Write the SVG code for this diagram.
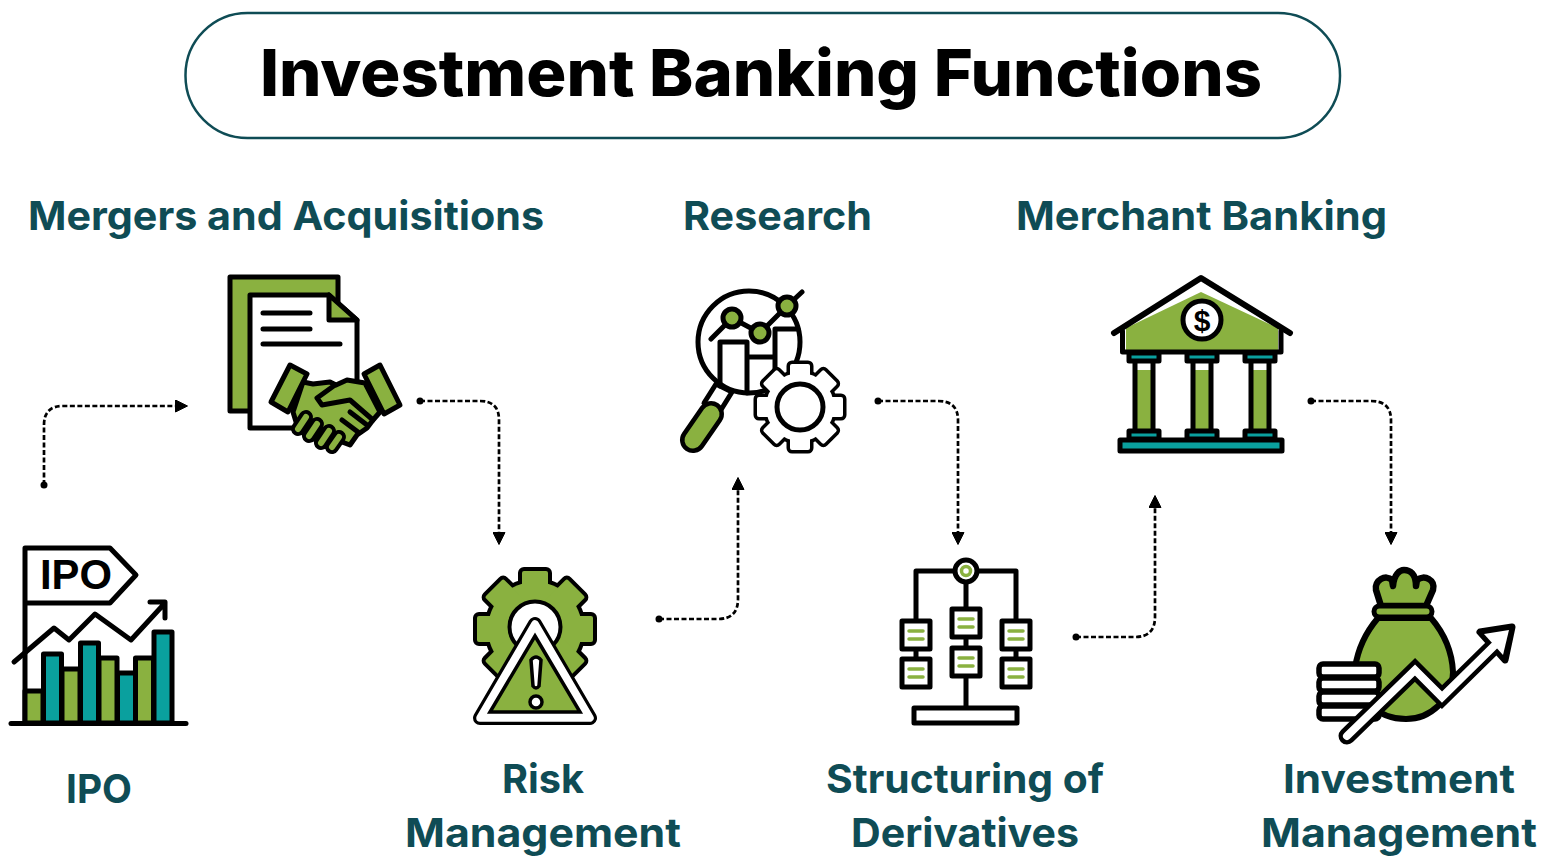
<svg xmlns="http://www.w3.org/2000/svg" xmlns:xlink="http://www.w3.org/1999/xlink" width="1554" height="866" viewBox="0 0 1554 866">
<style>
.lab{font-family:"Inter","Liberation Sans",sans-serif;font-weight:700;font-size:40px;fill:#0f4c55}
.k{stroke:#000;stroke-width:5;stroke-linejoin:round;stroke-linecap:round}
.g{fill:#8ab140}.t{fill:#0aa09e}.w{fill:#fff}.n{fill:none}
.c{fill:none;stroke:#000;stroke-width:2.700;stroke-dasharray:5 2.500}
.ln{stroke:#8ab140;stroke-width:3.500;stroke-linecap:round;fill:none}
</style>
<defs>
<marker id="ah" viewBox="0 0 13 13" refX="1" refY="6.500" markerWidth="13" markerHeight="13" markerUnits="userSpaceOnUse" orient="auto"><path d="M0.500 0.500L12.500 6.500L0.500 12.500Z" fill="#000" stroke="#000" stroke-width="1"/></marker>
<g id="gearA"><circle r="47"/><rect x="-13" y="-58" width="26" height="116" rx="2"/><rect x="-13" y="-58" width="26" height="116" rx="2" transform="rotate(45)"/><rect x="-13" y="-58" width="26" height="116" rx="2" transform="rotate(90)"/><rect x="-13" y="-58" width="26" height="116" rx="2" transform="rotate(135)"/></g>
<g id="gearB"><circle r="34"/><rect x="-10" y="-43" width="20" height="86" rx="2"/><rect x="-10" y="-43" width="20" height="86" rx="2" transform="rotate(45)"/><rect x="-10" y="-43" width="20" height="86" rx="2" transform="rotate(90)"/><rect x="-10" y="-43" width="20" height="86" rx="2" transform="rotate(135)"/></g>
<g id="box"><rect width="28" height="28" class="k w"/><path class="ln" d="M7 10H21M7 18H21"/></g>
<g id="cap"><rect x="-15" y="0" width="30" height="8" class="t" stroke="#000" stroke-width="5" stroke-linejoin="round"/></g>
<g id="col"><rect x="-9" y="361" width="18" height="69" class="g"/><rect x="-9" y="361" width="18" height="9" class="w"/><path d="M-9 361V430M9 361V430" class="k n"/></g>
</defs>

<g id="title">
<rect x="185.500" y="13" width="1154.500" height="125" rx="62" fill="#fff" stroke="#0f4c55" stroke-width="2.500"/>
<text x="260" y="96" textLength="1002" lengthAdjust="spacingAndGlyphs" font-family="Inter,'Liberation Sans',sans-serif" font-weight="800" font-size="65" fill="#000">Investment Banking Functions</text>
</g>

<g id="connectors">
<path class="c" marker-end="url(#ah)" d="M44 485V425Q44 406 63 406H176"/>
<path class="c" marker-end="url(#ah)" d="M420 401H480Q499 401 499 420V533"/>
<path class="c" marker-end="url(#ah)" d="M659 619H718Q738 619 738 599V489"/>
<path class="c" marker-end="url(#ah)" d="M878 401H938Q958 401 958 420V533"/>
<path class="c" marker-end="url(#ah)" d="M1076 637H1135Q1155 637 1155 617V507"/>
<path class="c" marker-end="url(#ah)" d="M1311 401H1371Q1391 401 1391 420V533"/>
<circle cx="44" cy="485" r="3.500"/><circle cx="420" cy="401" r="3.500"/><circle cx="659" cy="619" r="3.500"/><circle cx="878" cy="401" r="3.500"/><circle cx="1076" cy="637" r="3.500"/><circle cx="1311" cy="401" r="3.500"/>
</g>

<g id="node-ipo">
<path class="k n" d="M25 723V548H110L136 575L110 603H25"/>
<text x="40" y="589" textLength="72" lengthAdjust="spacingAndGlyphs" font-family="'Liberation Sans',sans-serif" font-weight="700" font-size="43" fill="#000">IPO</text>
<path class="k n" d="M14 662L54 628L69 640L95 614L131 640L165 603M150 602H165V618"/>
<rect x="25" y="691" width="18" height="32" class="k g"/>
<rect x="43.500" y="654" width="18" height="69" class="k t"/>
<rect x="62" y="669" width="18" height="54" class="k g"/>
<rect x="80.500" y="643" width="18" height="80" class="k t"/>
<rect x="99" y="658" width="18" height="65" class="k g"/>
<rect x="117.500" y="673" width="18" height="50" class="k t"/>
<rect x="135.500" y="658" width="18" height="65" class="k g"/>
<rect x="154" y="632" width="18" height="91" class="k t"/>
<path class="k n" d="M11 723.500H186"/>
<text class="lab" x="66" y="803" textLength="66" lengthAdjust="spacingAndGlyphs">IPO</text>
</g>

<g id="node-mergers">
<rect x="230" y="277" width="108" height="134" class="k g"/>
<path class="k w" d="M250 295H329L357 320V428H250Z"/>
<path class="k g" d="M329 295V320H357Z"/>
<path class="k n" d="M263 313H310M263 329H310M263 344H340"/>
<path class="k g" stroke-width="5.500" d="M303 382L313 384L330 382L336 385L347 380L365 383L380 412L373 420L367 428L357 435L350 445L342 442L327 447L320 442L310 437L297 425L293 412Z"/>
<path class="k n" d="M335 385L317 398L322 405L350 400L373 420M342 420L358 432M350 412L367 425"/>
<path stroke="#000" stroke-width="14" stroke-linecap="round" d="M306 417L298 429M317 424L309 436M329 431L321 443M339 437L332 447"/>
<path stroke="#8ab140" stroke-width="6" stroke-linecap="round" d="M306 417L298 429M317 424L309 436M329 431L321 443M339 437L332 447"/>
<path class="k g" d="M290 365L307 374L288 412L271 402Z"/>
<path class="k g" d="M380 365L364 374L384 414L400 405Z"/>
<text class="lab" x="28" y="230" textLength="516" lengthAdjust="spacingAndGlyphs">Mergers and Acquisitions</text>
</g>

<g id="node-risk">
<use href="#gearA" x="535" y="629" fill="#000" stroke="#000" stroke-width="8" stroke-linejoin="round"/>
<use href="#gearA" x="535" y="629" fill="#8ab140"/>
<circle cx="535" cy="627" r="25.500" fill="#fff" stroke="#000" stroke-width="4"/>
<path d="M535 624L590 718H480Z" fill="#fff" stroke="#000" stroke-width="14" stroke-linejoin="round"/>
<path d="M535 624L590 718H480Z" fill="#fff" stroke="#fff" stroke-width="7.500" stroke-linejoin="round"/>
<path d="M535 636L580 712H490Z" class="g" stroke="#000" stroke-width="3.500" stroke-linejoin="miter"/>
<path d="M531 660Q536 654 541 660L539 686Q536 690 533 686Z" fill="#fff" stroke="#000" stroke-width="3.500"/>
<circle cx="536" cy="702" r="6" fill="#fff" stroke="#000" stroke-width="3.500"/>
<text class="lab" x="502" y="793" textLength="82" lengthAdjust="spacingAndGlyphs">Risk</text>
<text class="lab" x="405" y="847" textLength="276" lengthAdjust="spacingAndGlyphs">Management</text>
</g>

<g id="node-research">
<path class="k w" d="M716 384L704 403L719 413L732 392Z"/>
<path d="M693 440L711 414" stroke="#000" stroke-width="26" stroke-linecap="round"/>
<path d="M693 440L711 414" stroke="#8ab140" stroke-width="17" stroke-linecap="round"/>
<circle cx="749" cy="342" r="51" class="k w"/>
<path class="k n" d="M720 386V342H747V393M747 357H775M775 357V329H798M775 329V372"/>
<path class="k n" d="M711 339L732 318L760 333L787 306L802 292"/>
<circle cx="732" cy="318" r="9" class="k g"/><circle cx="760" cy="333" r="9" class="k g"/><circle cx="787" cy="306" r="9" class="k g"/>
<use href="#gearB" x="800" y="407" fill="#000" stroke="#000" stroke-width="7" stroke-linejoin="round"/>
<use href="#gearB" x="800" y="407" fill="#fff"/>
<circle cx="800" cy="407" r="23" class="k w"/>
<text class="lab" x="683" y="230" textLength="189" lengthAdjust="spacingAndGlyphs">Research</text>
</g>

<g id="node-structuring">
<path class="k n" d="M916 621V571H1016V621M916 649V659M1016 649V659M966 571V609M966 638V648M966 677V707"/>
<use href="#box" x="902" y="621"/><use href="#box" x="902" y="659"/>
<use href="#box" x="952" y="609"/><use href="#box" x="952" y="648"/>
<use href="#box" x="1002" y="621"/><use href="#box" x="1002" y="659"/>
<rect x="914" y="708" width="103" height="15" class="k w"/>
<circle cx="966" cy="571" r="11" class="w" stroke="#000" stroke-width="5"/>
<circle cx="966" cy="571" r="4.500" fill="#fff" stroke="#8ab140" stroke-width="3.500"/>
<text class="lab" x="826" y="793" textLength="278" lengthAdjust="spacingAndGlyphs">Structuring of</text>
<text class="lab" x="851" y="847" textLength="228" lengthAdjust="spacingAndGlyphs">Derivatives</text>
</g>

<g id="node-merchant">
<path d="M1126 328L1201 292L1278 328V350H1126Z" class="g"/>
<path class="k n" d="M1122.500 331V352H1281V331"/>
<path d="M1114 333L1201 278L1290 333" fill="none" stroke="#000" stroke-width="6" stroke-linecap="round" stroke-linejoin="round"/>
<circle cx="1202" cy="320" r="19" class="k w"/>
<text x="1202" y="331" text-anchor="middle" font-family="'Liberation Sans',sans-serif" font-weight="700" font-size="30" fill="#000">$</text>
<use href="#col" x="1144"/><use href="#col" x="1202"/><use href="#col" x="1260"/>
<use href="#cap" x="1144" y="353"/><use href="#cap" x="1202" y="353"/><use href="#cap" x="1260" y="353"/>
<use href="#cap" x="1144" y="431"/><use href="#cap" x="1202" y="431"/><use href="#cap" x="1260" y="431"/>
<rect x="1120" y="440" width="162" height="11" class="t" stroke="#000" stroke-width="5" stroke-linejoin="round"/>
<text class="lab" x="1016" y="230" textLength="371" lengthAdjust="spacingAndGlyphs">Merchant Banking</text>
</g>

<g id="node-investment">
<path d="M1378 618C1366 632 1358 648 1355 668C1353 700 1380 719 1406 719C1430 719 1452 700 1453 672C1452 650 1443 632 1431 618Z" class="g" stroke="#000" stroke-width="6"/>
<path class="g" stroke="#000" stroke-width="6.500" stroke-linejoin="round" d="M1381 606L1376 590C1374 580 1386 574 1392 580L1393 586C1394 574 1400 570 1404 570C1410 570 1416 574 1416 586L1417 580C1424 574 1436 580 1433 590L1426 606Z"/>
<rect x="1374" y="606" width="58" height="11" rx="5.500" class="g" stroke="#000" stroke-width="5"/>
<rect x="1319" y="664" width="60" height="13" rx="4" fill="#fff" stroke="#000" stroke-width="5.500"/>
<rect x="1319" y="678" width="60" height="13" rx="4" fill="#fff" stroke="#000" stroke-width="5.500"/>
<rect x="1319" y="692" width="60" height="13" rx="4" fill="#fff" stroke="#000" stroke-width="5.500"/>
<rect x="1319" y="706" width="60" height="13" rx="4" fill="#fff" stroke="#000" stroke-width="5.500"/>
<path d="M1347 736L1415 670L1442 697L1492 648" fill="none" stroke="#000" stroke-width="17" stroke-linecap="round" stroke-linejoin="miter"/>
<path d="M1480 632L1512 627L1505 660Z" fill="#000" stroke="#000" stroke-width="7" stroke-linejoin="round"/>
<path d="M1484 634L1509 630L1503 655Z" fill="#fff"/>
<path d="M1347 736L1415 670L1442 697L1494 646" fill="none" stroke="#fff" stroke-width="8" stroke-linecap="round" stroke-linejoin="miter"/>
<text class="lab" x="1283" y="793" textLength="232" lengthAdjust="spacingAndGlyphs">Investment</text>
<text class="lab" x="1261" y="847" textLength="276" lengthAdjust="spacingAndGlyphs">Management</text>
</g>
</svg>
